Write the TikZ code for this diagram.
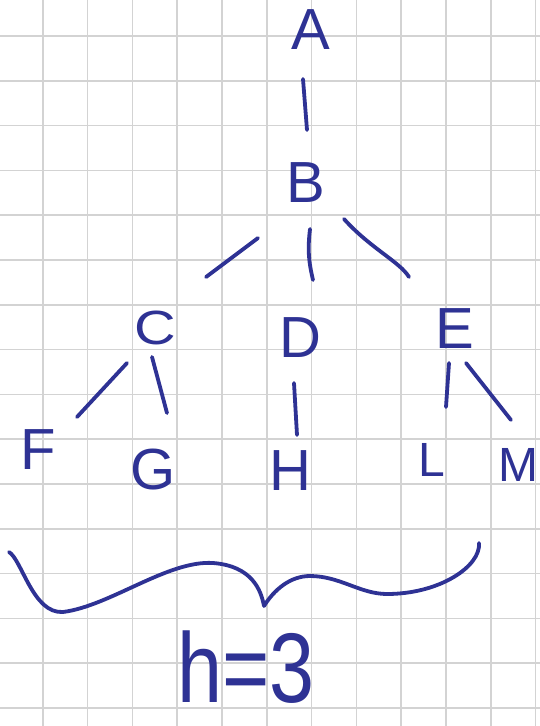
\documentclass[tikz,border=0pt]{standalone}
\usepackage{fontspec}
\setmainfont{Liberation Sans}
\usetikzlibrary{calc}

\definecolor{ink}{RGB}{46,50,148}
\definecolor{gridgray}{RGB}{211,211,211}

\tikzset{
  letter/.style={inner sep=0pt, text=ink, font=\fontsize{58}{58}\selectfont},
  lowletter/.style={letter, font=\fontsize{48}{48}\selectfont},
  edge/.style={draw=ink, line width=3.8pt, line cap=round, line join=round},
  gridline/.style={draw=gridgray, line width=1.6pt},
}

\begin{document}
\begin{tikzpicture}[x=1pt, y=-1pt]
  \useasboundingbox (0,0) rectangle (540,726);
  \fill[white] (0,0) rectangle (540,726);

  % squared paper
  \foreach \k in {0,...,11} \draw[gridline] ({42.7+44.8*\k},0) -- ({42.7+44.8*\k},726);
  \foreach \k in {0,...,15} \draw[gridline] (0,{36+44.8*\k}) -- (540,{36+44.8*\k});

  % tree nodes
  \node[letter]    (A) at (311,30)  {A};
  \node[letter]    (B) at (306,183) {B};
  \node[lowletter, xscale=1.2] (C) at (155,328) {C};
  \node[letter]    (D) at (300,338) {D};
  \node[letter]    (E) at (455,329) {E};
  \node[letter]    (F) at (38,450)  {F};
  \node[letter]    (G) at (153,470) {G};
  \node[letter]    (H) at (290,471) {H};
  \node[lowletter] (L) at (432,460) {L};
  \node[lowletter] (M) at (518,465) {M};

  % branches, drawn as short strokes between the letters
  \draw[edge] ($(A)+(-8,49)$) -- ($(B)+(1,-53)$);
  \draw[edge] ($(B)+(-48,55)$) -- ($(C)+(51,-51)$);
  \draw[edge] ($(B)+(4,46)$) to[bend right=10] ($(D)+(13,-58)$);
  \draw[edge] ($(B)+(38,36)$) .. controls ($(B)+(64,65)$) and ($(E)+(-55,-67)$) .. ($(E)+(-46,-52)$);
  \draw[edge] ($(C)+(-28,35)$) -- ($(F)+(39,-33)$);
  \draw[edge] ($(C)+(-3,29)$) -- ($(G)+(14,-57)$);
  \draw[edge] ($(D)+(-6,45)$) -- ($(H)+(7,-36)$);
  \draw[edge] ($(E)+(-6,34)$) -- ($(L)+(14,-53)$);
  \draw[edge] ($(E)+(11,34)$) -- ($(M)+(-7,-45)$);

  % brace under the leaves
  \draw[edge] (9,552) .. controls (22,560) and (33,614) .. (63,612)
              .. controls (110,606) and (168,560) .. (213,563)
              .. controls (252,566) and (261,590) .. (264,606)
              .. controls (274,590) and (290,576) .. (310,576)
              .. controls (340,576) and (360,594) .. (387,594)
              .. controls (440,594) and (481,566) .. (479,543);

  % height label
  \node[letter, font=\fontsize{90}{90}\selectfont, xscale=0.9, yscale=1.1] (hgt) at (246,667) {h=3};
\end{tikzpicture}
\end{document}
